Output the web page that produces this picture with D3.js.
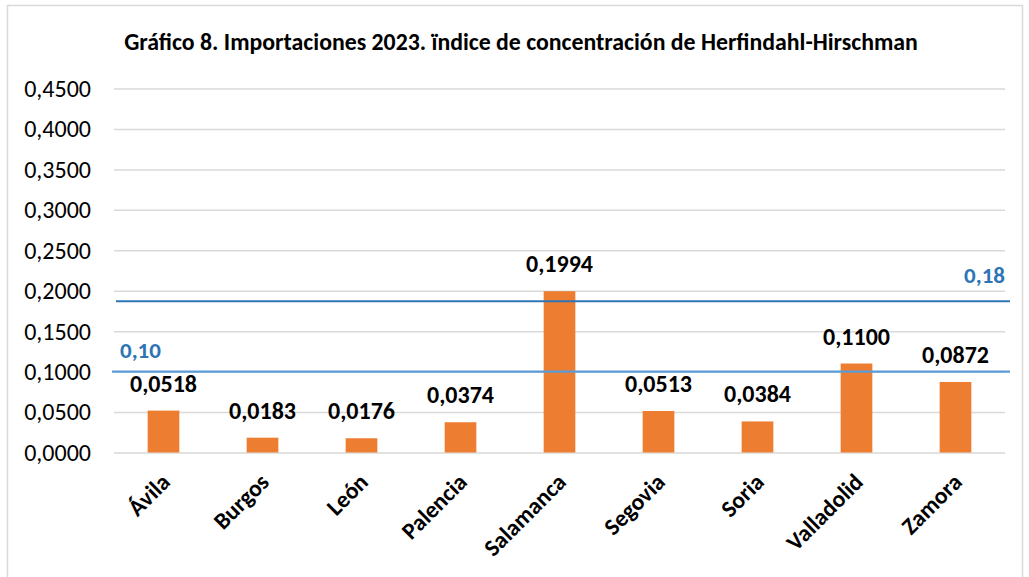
<!DOCTYPE html>
<html>
<head>
<meta charset="utf-8">
<script src="https://cdn.jsdelivr.net/npm/d3@7"></script>
<style>
  html, body { margin: 0; padding: 0; background: #fff; }
  svg { display: block; font-family: Carlito, "Open Sans", sans-serif; }
</style>
</head>
<body>
<svg id="chart" width="1029" height="577"></svg>
<script>
const provinces = ["Ávila", "Burgos", "León", "Palencia", "Salamanca", "Segovia", "Soria", "Valladolid", "Zamora"];
const hhiValues = [0.0518, 0.0183, 0.0176, 0.0374, 0.1994, 0.0513, 0.0384, 0.1100, 0.0872];
const yTicks = [0, 0.05, 0.10, 0.15, 0.20, 0.25, 0.30, 0.35, 0.40, 0.45];
const refLevels = [0.10, 0.187];
const refLabels = ["0,10", "0,18"];

const titleText = "Gráfico 8. Importaciones 2023. ïndice de concentración de Herfindahl-Hirschman";

const svg = d3.select("#chart");
const plot = { left: 114, right: 1005, top: 88.5, bottom: 452.5 };

const fmt = v => v.toFixed(4).replace(".", ",");

// marco del gráfico
svg.append("rect")
    .attr("x", 7.5).attr("y", 5.5)
    .attr("width", 1015).attr("height", 580)
    .attr("fill", "#fff")
    .attr("stroke", "#d9d9d9")
    .attr("stroke-width", 1.5);

svg.append("text")
    .attr("x", 521).attr("y", 50)
    .attr("text-anchor", "middle")
    .attr("font-weight", "bold")
    .attr("font-size", 23.8)
    .attr("fill", "#000")
    .text(titleText);

const x = d3.scaleBand()
    .domain(provinces)
    .range([plot.left, plot.right])
    .paddingInner(0.68)
    .paddingOuter(0.34);

const y = d3.scaleLinear()
    .domain([0, 0.45])
    .range([plot.bottom, plot.top]);

// rejilla
svg.append("g")
    .attr("transform", `translate(${plot.left},0)`)
    .call(d3.axisLeft(y).tickValues(yTicks).tickSize(-(plot.right - plot.left)).tickFormat(""))
    .call(g => g.select(".domain").remove())
    .call(g => g.selectAll("line").attr("stroke", "#d9d9d9").attr("stroke-width", 1.5));

// eje Y
svg.append("g")
    .attr("transform", `translate(91,0)`)
    .call(d3.axisLeft(y).tickValues(yTicks).tickSize(0).tickPadding(0).tickFormat(fmt))
    .call(g => g.select(".domain").remove())
    .call(g => g.selectAll("text")
        .attr("font-family", 'Carlito, "Open Sans", sans-serif')
        .attr("font-size", 24)
        .attr("fill", "#000")
        .attr("dy", "0.33em"));

// barras
svg.append("g").selectAll("rect")
    .data(hhiValues)
    .join("rect")
    .attr("x", (d, i) => x(provinces[i]))
    .attr("y", d => y(d))
    .attr("width", x.bandwidth())
    .attr("height", d => y(0) - y(d))
    .attr("fill", "#ed7d31");

// etiquetas de valor
svg.append("g").selectAll("text")
    .data(hhiValues)
    .join("text")
    .attr("x", (d, i) => x(provinces[i]) + x.bandwidth() / 2)
    .attr("y", d => y(d) - 19)
    .attr("text-anchor", "middle")
    .attr("font-weight", "bold")
    .attr("font-size", 24)
    .attr("fill", "#000")
    .text(fmt);

// líneas de referencia
const refColors = ["#5b9bd5", "#2e75b6"];
svg.append("g").selectAll("line")
    .data(refLevels)
    .join("line")
    .attr("x1", (d, i) => i === 0 ? 112 : 116)
    .attr("x2", 1010)
    .attr("y1", d => y(d))
    .attr("y2", d => y(d))
    .attr("stroke", (d, i) => refColors[i])
    .attr("stroke-width", 2.2);

svg.append("text")
    .attr("x", 120).attr("y", y(refLevels[0]) - 14)
    .attr("font-weight", "bold")
    .attr("font-size", 23)
    .attr("fill", "#2e75b6")
    .text(refLabels[0]);

svg.append("text")
    .attr("x", 1005).attr("y", y(refLevels[1]) - 18)
    .attr("text-anchor", "end")
    .attr("font-weight", "bold")
    .attr("font-size", 23)
    .attr("fill", "#2e75b6")
    .text(refLabels[1]);

// eje X
svg.append("g")
    .attr("transform", `translate(0,${plot.bottom})`)
    .call(d3.axisBottom(x).tickSize(0).tickFormat(d => d))
    .call(g => g.select(".domain").remove())
    .call(g => g.selectAll("text")
        .attr("font-family", 'Carlito, "Open Sans", sans-serif')
        .attr("font-size", 23.5)
        .attr("font-weight", "bold")
        .attr("fill", "#000")
        .attr("text-anchor", "end")
        .attr("y", 0).attr("dy", 0)
        .attr("transform", "translate(8,31) rotate(-45)"));
</script>
</body>
</html>
